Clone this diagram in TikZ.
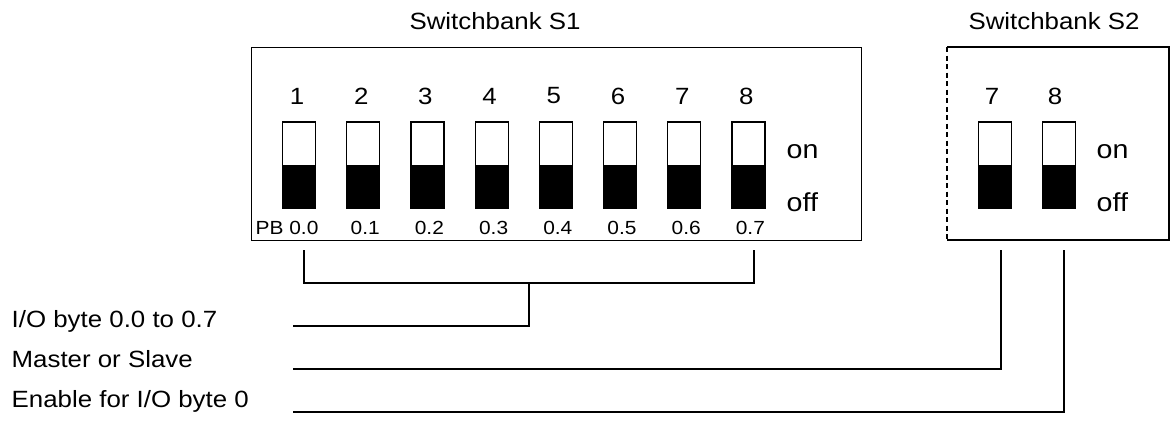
\documentclass[tikz,border=0pt]{standalone}
\usepackage{fontspec}
\setmainfont[FakeStretch=1.1]{Liberation Sans}
\begin{document}
\begin{tikzpicture}[x=1pt,y=-1pt,line width=1.4pt,
  swbox/.style={draw,line width=1.2pt,minimum width=33pt,minimum height=86pt,inner sep=0pt},
  numtxt/.style={inner sep=0pt,font=\fontsize{23.5}{23.5}\selectfont},
  pbtxt/.style={inner sep=0pt,font=\fontsize{19}{19}\selectfont},
  onoff/.style={inner sep=0pt,anchor=base west,font=\fontsize{26}{26}\selectfont},
  labtxt/.style={inner sep=0pt,font=\fontsize{23.5}{23.5}\selectfont},
  wire/.style={line width=1.4pt}]
\useasboundingbox (0,0) rectangle (1171,421);

% titles
\node[labtxt] (t1) at (495,21) {Switchbank S1};
\node[labtxt] (t2) at (1054,21) {Switchbank S2};

% switchbank S1 frame
\node[draw,line width=1.4pt,minimum width=610pt,minimum height=193pt,inner sep=0pt,anchor=north west] (S1) at (251,47) {};

% switchbank S2 frame (dashed left side)
\coordinate (s2tl) at (947,47);
\coordinate (s2tr) at (1169,47);
\coordinate (s2br) at (1169,240);
\coordinate (s2bl) at (947,240);
\draw (s2tl) -- (s2tr) -- (s2br) -- (s2bl);
\draw[dash pattern=on 5pt off 3.5pt] (s2tl) -- (s2bl);

% S1 switches
\foreach \i in {1,...,8} {
  \pgfmathsetmacro\xx{299+64.2*(\i-1)}
  \pgfmathtruncatemacro\k{\i-1}
  \node[swbox] (a\i) at (\xx,165) {};
  \fill (a\i.south west) rectangle ([yshift=44pt]a\i.south east);
  \node[numtxt] (n\i) at (\xx-2,96) {\i};
  \ifnum\i>1
    \node[pbtxt] (p\i) at (\xx+2,228) {0.\k};
  \fi
}
\node[pbtxt,anchor=west] (p1) at (255,228) {PB 0.0};
\node[onoff] (on1) at (786,158) {on};
\node[onoff] (off1) at (786,211) {off};

% S2 switches
\node[swbox] (b7) at (994.7,165) {};
\fill (b7.south west) rectangle ([yshift=44pt]b7.south east);
\node[swbox] (b8) at (1059,165) {};
\fill (b8.south west) rectangle ([yshift=44pt]b8.south east);
\node[numtxt] (m7) at (992,96) {7};
\node[numtxt] (m8) at (1055,96) {8};
\node[onoff] (on2) at (1096,158) {on};
\node[onoff] (off2) at (1096,211) {off};

% left labels
\node[labtxt,anchor=base west] (L1) at (11,327) {I/O byte 0.0 to 0.7};
\node[labtxt,anchor=base west] (L2) at (11,367) {Master or Slave};
\node[labtxt,anchor=base west] (L3) at (11,407) {Enable for I/O byte 0};

% connectors
\coordinate (c1) at (304,250);
\coordinate (c1b) at (304,283);
\coordinate (c8) at (754,250);
\coordinate (c8b) at (754,283);
\coordinate (cm) at (529,283);
\coordinate (cmb) at (529,326);
\coordinate (e1) at (293,326);
\draw[wire] (c1) -- (c1b) -- (c8b) -- (c8);
\draw[wire] (cm) -- (cmb) -- (e1);

\coordinate (d7) at (1001,250);
\coordinate (d7b) at (1001,369);
\coordinate (e2) at (293,369);
\draw[wire] (d7) -- (d7b) -- (e2);

\coordinate (d8) at (1064,250);
\coordinate (d8b) at (1064,412);
\coordinate (e3) at (293,412);
\draw[wire] (d8) -- (d8b) -- (e3);
\end{tikzpicture}
\end{document}
